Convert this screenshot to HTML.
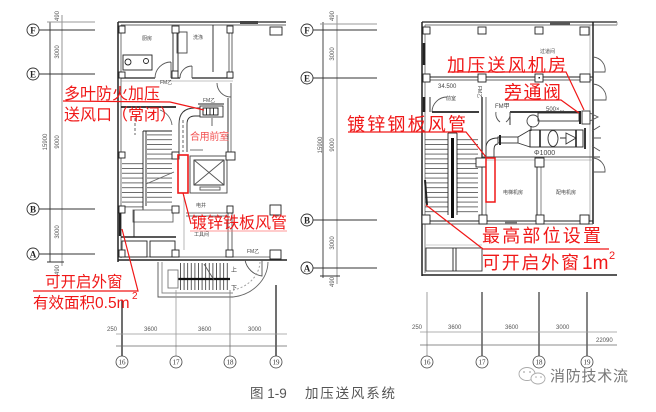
<!DOCTYPE html>
<html><head><meta charset="utf-8"><style>
html,body{margin:0;padding:0;background:#fff;}
svg{display:block;}
.cj{font-family:"Liberation Sans","Noto Sans CJK SC",sans-serif;}
</style></head><body>
<svg width="656" height="412" viewBox="0 0 656 412" xmlns="http://www.w3.org/2000/svg">
<defs>
<pattern id="th" width="30" height="4.8" patternUnits="userSpaceOnUse"><line x1="0" y1="0.5" x2="30" y2="0.5" stroke="#333" stroke-width="0.8"/></pattern>
<pattern id="tv" width="3.6" height="40" patternUnits="userSpaceOnUse"><line x1="0.5" y1="0" x2="0.5" y2="40" stroke="#333" stroke-width="0.8"/></pattern>
</defs>
<rect width="656" height="412" fill="#fff"/>

<!-- ============ LEFT AXES ============ -->
<g stroke="#333" stroke-width="0.9" fill="none">
<line x1="50" y1="22" x2="50" y2="262"/>
<line x1="62" y1="15" x2="62" y2="266" stroke="#888"/>
<line x1="47" y1="22" x2="95" y2="22" stroke="#999"/>
<line x1="39" y1="30" x2="95" y2="30"/>
<line x1="39" y1="74" x2="95" y2="74"/>
<line x1="39" y1="209" x2="95" y2="209"/>
<line x1="39" y1="254" x2="95" y2="254"/>
<line x1="47" y1="262" x2="64" y2="262"/>
</g>
<g fill="#fff" stroke="#333" stroke-width="0.9">
<circle cx="33" cy="30" r="6"/><circle cx="33" cy="74" r="6"/><circle cx="33" cy="209" r="6"/><circle cx="33" cy="254" r="6"/>
</g>
<g font-family="Liberation Serif,serif" font-size="9" fill="#222" text-anchor="middle" font-weight="bold">
<text x="33" y="33.5">F</text><text x="33" y="77.5">E</text><text x="33" y="212.5">B</text><text x="33" y="257.5">A</text>
</g>
<g font-family="Liberation Sans,sans-serif" font-size="6" fill="#555" text-anchor="middle">
<text transform="translate(59,16) rotate(-90)">490</text>
<text transform="translate(59,52) rotate(-90)">3000</text>
<text transform="translate(47,142) rotate(-90)">15900</text>
<text transform="translate(59,142) rotate(-90)">9000</text>
<text transform="translate(59,232) rotate(-90)">3000</text>
<text transform="translate(59,270) rotate(-90)">490</text>
</g>

<!-- ============ LEFT PLAN ============ -->
<g stroke="#222" fill="none" stroke-width="0.9">
<!-- outer -->
<line x1="118" y1="22" x2="286" y2="22" stroke-width="1.3"/>
<line x1="121" y1="25" x2="286" y2="25" stroke="#666"/>
<line x1="118" y1="22" x2="118" y2="262" stroke-width="1.5"/>
<line x1="121" y1="25" x2="121" y2="258" stroke="#666"/>
<line x1="118" y1="260" x2="287" y2="260" stroke-width="1.6"/>
<line x1="121" y1="257" x2="270" y2="257" stroke="#777"/>
<!-- top partitions -->
<line x1="173" y1="32" x2="173" y2="72"/>
<line x1="178" y1="32" x2="178" y2="72"/>
<line x1="213" y1="25" x2="213" y2="72"/>
<line x1="229" y1="33" x2="229" y2="72" stroke="#555"/>
<line x1="232" y1="33" x2="232" y2="72" stroke="#555"/>
<line x1="121" y1="78" x2="155" y2="78" stroke-width="1.3"/>
<line x1="171" y1="78" x2="180" y2="78" stroke-width="1.3"/>
<line x1="192" y1="78" x2="233" y2="78" stroke-width="1.3"/>
<line x1="121" y1="81" x2="233" y2="81" stroke="#888" stroke-width="0.6"/>
<rect x="123" y="55" width="29" height="15"/>
<circle cx="128" cy="62" r="3"/>
<circle cx="146" cy="61" r="2.5"/>
<rect x="177" y="32" width="10" height="21" stroke="#444"/>
<path d="M155,78 A16,16 0 0 1 171,62 M171,62 L171,78" stroke="#555"/>
<path d="M180,78 A12,12 0 0 1 192,66 M192,66 L192,78" stroke="#555"/>
<path d="M217,83 A14,14 0 0 0 231,97 M231,83 L231,110" stroke="#555"/>
<rect x="240" y="21" width="18" height="3" fill="#444" stroke="none"/>
<!-- middle -->
<line x1="121" y1="107" x2="176" y2="107" stroke-width="1.8"/>
<line x1="198" y1="104" x2="224" y2="104"/>
<rect x="200" y="106" width="23" height="11" stroke="#333"/>
<rect x="203" y="108" width="15" height="7" stroke="#111"/>
<line x1="206.5" y1="108" x2="206.5" y2="115"/><line x1="210" y1="108" x2="210" y2="115"/><line x1="213.5" y1="108" x2="213.5" y2="115"/>
<line x1="228" y1="98" x2="228" y2="152"/>
<line x1="231" y1="98" x2="231" y2="152" stroke="#666"/>
<line x1="212" y1="118" x2="212" y2="126" stroke="#555"/>
<!-- duct -->
<path d="M179,152 L179,124 Q179,108 195,108 L200,108" stroke="#333"/>
<path d="M187,152 L187,124 Q187,116 195,116 L200,116" stroke="#333"/>
<line x1="183" y1="120" x2="183" y2="152" stroke="#555" stroke-dasharray="3,2"/>
<line x1="135" y1="118" x2="135" y2="135" stroke="#555" stroke-dasharray="3,2"/>
<path d="M160,110 A18,18 0 0 1 172,125" stroke="#666"/>
<!-- stairs -->
<rect x="122" y="160" width="21" height="50" fill="url(#th)" stroke="none"/>
<rect x="147" y="131" width="25" height="75" fill="url(#th)" stroke="none"/>
<line x1="143" y1="131" x2="143" y2="210"/>
<line x1="146" y1="131" x2="146" y2="206"/>
<line x1="143" y1="131" x2="172" y2="131"/>
<line x1="146" y1="184" x2="174" y2="172" stroke="#666"/>
<rect x="133" y="210" width="40" height="12" stroke="#666"/>
<line x1="134" y1="210" x2="134" y2="237"/>
<line x1="121" y1="237" x2="176" y2="237" stroke-width="1.5"/>
<rect x="122" y="241" width="25" height="16"/>
<rect x="150" y="241" width="25" height="16"/>
<line x1="120" y1="212" x2="120" y2="236" stroke-width="2.4"/>
<!-- elevator -->
<rect x="190" y="156" width="37" height="37" stroke="#444"/>
<rect x="194" y="160" width="30" height="25"/>
<line x1="194" y1="160" x2="224" y2="185" stroke="#555"/><line x1="224" y1="160" x2="194" y2="185" stroke="#555"/>
<rect x="200" y="187" width="20" height="3" stroke="#555"/>
<line x1="190" y1="150" x2="203" y2="150" stroke="#666"/>
<!-- lower right -->
<line x1="186" y1="213" x2="228" y2="213" stroke="#777"/>
<line x1="186" y1="216" x2="228" y2="216" stroke="#777"/>
<line x1="228" y1="213" x2="228" y2="250" stroke="#555"/>
<line x1="232" y1="213" x2="232" y2="250" stroke="#555"/>
<line x1="184" y1="195" x2="184" y2="250" stroke="#888" stroke-width="0.6"/>
<path d="M245,260 A20,20 0 0 0 262,276 L262,260" stroke="#555"/>
<!-- stair projection -->
<path d="M158,262 L158,297 L233,297" stroke="#555"/>
<path d="M162,262 L162,293 L233,293" stroke="#888"/>
<rect x="178" y="263" width="52" height="27" fill="url(#tv)" stroke="none"/>
<line x1="178" y1="279" x2="230" y2="279" stroke-width="2.2" stroke="#111"/>
<rect x="168" y="270" width="10" height="18" stroke="#777"/>
<line x1="204" y1="264" x2="214" y2="280" stroke="#555"/>
<path d="M233,297 A40,36 0 0 0 268,262" stroke="#666"/>
<path d="M233,290 A34,30 0 0 0 260,262" stroke="#999" stroke-dasharray="2,2"/>
</g>
<g fill="#fff" stroke="#222" stroke-width="0.9">
<rect x="119" y="26" width="6" height="7"/><rect x="172" y="26" width="7" height="7"/><rect x="227" y="26" width="6" height="7"/><rect x="270" y="27" width="12" height="8"/>
<rect x="119" y="72" width="6" height="6"/><rect x="172" y="71" width="6" height="7"/><rect x="227" y="72" width="6" height="6"/>
<rect x="119" y="152" width="6" height="6"/><rect x="172" y="152" width="7" height="7"/><rect x="226" y="152" width="9" height="8"/>
<rect x="119" y="206" width="6" height="7"/><rect x="172" y="206" width="7" height="7"/><rect x="227" y="206" width="6" height="7"/><rect x="270" y="205" width="11" height="10"/>
<rect x="119" y="250" width="6" height="7"/><rect x="172" y="250" width="7" height="7"/><rect x="226" y="250" width="7" height="7"/><rect x="270" y="250" width="11" height="9"/>
</g>
<g class="cj" font-size="5" fill="#444">
<text x="142" y="40">厨房</text><text x="193" y="39">洗涤</text>
<text x="160" y="84">FM乙</text><text x="203" y="102">FM乙</text>
<text x="196" y="207">电井</text><text x="194" y="236">工具间</text>
<text x="247" y="253">FM乙</text>
<text x="231" y="272" font-size="6">上</text><text x="231" y="290" font-size="6">下</text>
</g>

<!-- left bottom dims -->
<g stroke="#333" fill="none">
<line x1="122" y1="300" x2="122" y2="356" stroke-width="1.4"/>
<line x1="176" y1="290" x2="176" y2="356" stroke="#999" stroke-width="0.8"/>
<line x1="230" y1="290" x2="230" y2="356" stroke="#777" stroke-width="0.8"/>
<line x1="276" y1="285" x2="276" y2="356" stroke-width="1.4"/>
<line x1="116" y1="334" x2="287" y2="334" stroke="#999" stroke-width="0.8"/>
<line x1="116" y1="346" x2="287" y2="346" stroke="#666" stroke-width="0.8"/>
</g>
<g font-family="Liberation Sans,sans-serif" font-size="6" fill="#555">
<text x="107" y="331">250</text><text x="144" y="331">3600</text><text x="198" y="331">3600</text><text x="248" y="331">3000</text>
</g>
<g fill="#fff" stroke="#444" stroke-width="0.8">
<circle cx="122" cy="362" r="6"/><circle cx="176" cy="362" r="6"/><circle cx="230" cy="362" r="6"/><circle cx="276" cy="362" r="6"/>
</g>
<g font-family="Liberation Serif,serif" font-size="7" fill="#333" text-anchor="middle">
<text x="122" y="364.5">16</text><text x="176" y="364.5">17</text><text x="230" y="364.5">18</text><text x="276" y="364.5">19</text>
</g>

<!-- ============ RIGHT AXES ============ -->
<g stroke="#333" stroke-width="0.9" fill="none">
<line x1="323" y1="22" x2="323" y2="278"/>
<line x1="337" y1="15" x2="337" y2="284" stroke="#888"/>
<line x1="320" y1="24" x2="377" y2="24" stroke="#999"/>
<line x1="313" y1="30" x2="377" y2="30"/>
<line x1="313" y1="78" x2="377" y2="78"/>
<line x1="313" y1="220" x2="377" y2="220"/>
<line x1="313" y1="268" x2="377" y2="268"/>
<line x1="320" y1="276" x2="340" y2="276"/>
</g>
<g fill="#fff" stroke="#333" stroke-width="0.9">
<circle cx="307" cy="30" r="6"/><circle cx="307" cy="78" r="6"/><circle cx="307" cy="220" r="6"/><circle cx="307" cy="268" r="6"/>
</g>
<g font-family="Liberation Serif,serif" font-size="9" fill="#222" text-anchor="middle" font-weight="bold">
<text x="307" y="33.5">F</text><text x="307" y="81.5">E</text><text x="307" y="223.5">B</text><text x="307" y="271.5">A</text>
</g>
<g font-family="Liberation Sans,sans-serif" font-size="6" fill="#555" text-anchor="middle">
<text transform="translate(334,16) rotate(-90)">490</text>
<text transform="translate(334,54) rotate(-90)">3000</text>
<text transform="translate(322,145) rotate(-90)">15900</text>
<text transform="translate(334,145) rotate(-90)">9000</text>
<text transform="translate(334,243) rotate(-90)">3000</text>
<text transform="translate(334,282) rotate(-90)">490</text>
</g>

<!-- ============ RIGHT PLAN ============ -->
<g stroke="#222" fill="none" stroke-width="0.9">
<line x1="422" y1="22" x2="617" y2="22" stroke-width="1.2"/>
<line x1="425" y1="25" x2="617" y2="25" stroke="#777"/>
<rect x="550" y="22" width="20" height="3" fill="#555" stroke="none"/>
<line x1="422" y1="22" x2="422" y2="276" stroke-width="1.5"/>
<line x1="425" y1="25" x2="425" y2="273" stroke="#777"/>
<line x1="424" y1="43" x2="424" y2="65" stroke-width="2.6"/>
<line x1="424" y1="97" x2="424" y2="112" stroke-width="2.6"/>
<line x1="593" y1="22" x2="593" y2="224" stroke-width="1.5"/>
<line x1="590" y1="25" x2="590" y2="222" stroke="#888" stroke-width="0.6"/>
<path d="M593,57 A13,13 0 0 1 605,72 L593,72" stroke="#555"/>
<path d="M593,84 A14,14 0 0 1 606,100 L593,100" stroke="#555"/>
<path d="M593,158 A13,13 0 0 1 605,172 L593,172" stroke="#555"/>
<line x1="425" y1="77" x2="593" y2="77"/>
<line x1="425" y1="80" x2="593" y2="80" stroke="#666"/>
<path d="M432,112 A15,15 0 0 1 447,97" stroke="#555"/>
<line x1="430" y1="97" x2="430" y2="112"/>
<line x1="482" y1="97" x2="482" y2="158" stroke-width="1.3"/>
<line x1="486" y1="97" x2="486" y2="158" stroke="#666"/>
<line x1="432" y1="112" x2="479" y2="112" stroke-width="1.8"/>
<line x1="510" y1="112" x2="580" y2="112" stroke-width="1.8"/>
<line x1="510" y1="112" x2="510" y2="125"/>
<path d="M496,112 A10,10 0 0 0 500,122 M510,112 A10,10 0 0 1 506,122" stroke="#555"/>
<!-- upper duct -->
<rect x="538" y="113" width="41" height="8" stroke="#333"/>
<line x1="580" y1="111" x2="580" y2="124" stroke-width="2"/>
<rect x="582" y="111" width="8" height="13" stroke="#333"/>
<path d="M590,113 L598,117 L590,121" stroke="#555"/>
<circle cx="533" cy="121" r="6" stroke="#444"/>
<line x1="531" y1="126" x2="531" y2="131"/>
<!-- main duct -->
<rect x="498" y="137" width="20" height="6" stroke="#333"/>
<line x1="500" y1="135" x2="500" y2="145" stroke-width="2"/>
<path d="M518,137 L530,130 M518,143 L530,147" stroke="#333"/>
<rect x="530" y="130" width="53" height="17" stroke="#222"/>
<line x1="540" y1="130" x2="540" y2="147" stroke-width="1.6"/>
<ellipse cx="553" cy="138.5" rx="5" ry="8" stroke="#333"/>
<path d="M560,138 L566,138 M566,133 L576,138 L566,144 Z" stroke="#333"/>
<line x1="576" y1="130" x2="576" y2="147" stroke-width="1.6"/>
<line x1="585" y1="128" x2="585" y2="149" stroke-width="1.8"/>
<path d="M592,131 L600,126 M592,138 L601,138 M592,146 L600,151" stroke="#555"/>
<path d="M486,157 L486,148 Q486,138 498,138" stroke="#333"/>
<path d="M494,157 L494,150 Q494,144 498,144" stroke="#333"/>
<line x1="482" y1="157" x2="600" y2="157" stroke="#444"/>
<line x1="486" y1="160" x2="593" y2="160" stroke="#888" stroke-width="0.6"/>
<line x1="537" y1="167" x2="537" y2="215"/>
<line x1="541" y1="167" x2="541" y2="215" stroke="#777"/>
<line x1="482" y1="167" x2="482" y2="215"/>
<line x1="486" y1="167" x2="486" y2="215" stroke="#777"/>
<!-- stairs -->
<rect x="425" y="138" width="23" height="77" fill="url(#th)" stroke="none"/>
<rect x="457" y="138" width="21" height="77" fill="url(#th)" stroke="none"/>
<line x1="448" y1="133" x2="448" y2="215"/>
<line x1="457" y1="133" x2="457" y2="215"/>
<line x1="452.5" y1="138" x2="452.5" y2="218" stroke-width="3" stroke="#111"/>
<line x1="448" y1="133" x2="457" y2="133"/>
<line x1="425" y1="180" x2="427" y2="205" stroke-width="2"/>
<!-- lower -->
<line x1="422" y1="221" x2="593" y2="221"/>
<line x1="422" y1="224" x2="593" y2="224" stroke="#666"/>
<rect x="505" y="221" width="12" height="3" fill="#777" stroke="none"/>
<rect x="426" y="248" width="56" height="23" stroke="#333"/>
<line x1="453" y1="248" x2="453" y2="271"/>
<line x1="456" y1="248" x2="456" y2="271"/>
<line x1="426" y1="245" x2="482" y2="245" stroke="#999" stroke-width="0.6"/>
<line x1="422" y1="275" x2="617" y2="275" stroke-width="1.5"/>
<line x1="617" y1="22" x2="617" y2="25" stroke="#999"/>
</g>
<g fill="#fff" stroke="#222" stroke-width="0.9">
<rect x="423" y="27" width="7" height="7"/><rect x="478" y="27" width="8" height="7"/><rect x="535" y="27" width="8" height="7"/><rect x="580" y="27" width="9" height="8"/>
<rect x="423" y="74" width="7" height="8"/><rect x="478" y="74" width="8" height="8"/><rect x="535" y="74" width="8" height="8"/><rect x="580" y="74" width="10" height="8"/>
<rect x="476" y="158" width="10" height="9"/><rect x="535" y="158" width="9" height="9"/>
<rect x="422" y="215" width="8" height="9"/><rect x="479" y="215" width="8" height="9"/><rect x="536" y="215" width="8" height="9"/><rect x="580" y="215" width="9" height="9"/>
</g>
<rect x="538.5" y="77" width="1.5" height="1.5" fill="#222"/>
<g class="cj" font-size="5" fill="#444">
<text x="540" y="53">过道间</text>
<text x="438" y="88" font-size="6">34.500</text><text x="446" y="100">前室</text>
<text transform="translate(478,86) rotate(90)">FM乙</text>
<text x="495" y="108" font-size="6">FM甲</text>
<text x="546" y="111" font-size="6">500×...</text>
<text x="534" y="155" font-size="7">Φ1000</text>
<text x="503" y="194">电梯机房</text><text x="556" y="194">配电机房</text>
</g>

<!-- right bottom dims -->
<g stroke="#333" fill="none">
<line x1="427" y1="292" x2="427" y2="357" stroke="#888" stroke-width="0.8"/>
<line x1="482" y1="292" x2="482" y2="357" stroke-width="1.2"/>
<line x1="539" y1="292" x2="539" y2="357" stroke-width="1.2"/>
<line x1="587" y1="292" x2="587" y2="357" stroke-width="1.2"/>
<line x1="420" y1="332" x2="617" y2="332" stroke="#999" stroke-width="0.8"/>
<line x1="420" y1="345" x2="617" y2="345" stroke="#666" stroke-width="0.8"/>
</g>
<g font-family="Liberation Sans,sans-serif" font-size="6" fill="#555">
<text x="412" y="329">250</text><text x="448" y="329">3600</text><text x="505" y="329">3600</text><text x="556" y="329">3000</text><text x="596" y="342">22090</text>
</g>
<g fill="#fff" stroke="#444" stroke-width="0.8">
<circle cx="427" cy="362" r="6"/><circle cx="482" cy="362" r="6"/><circle cx="539" cy="362" r="6"/><circle cx="587" cy="362" r="6"/>
</g>
<g font-family="Liberation Serif,serif" font-size="7" fill="#333" text-anchor="middle">
<text x="427" y="364.5">16</text><text x="482" y="364.5">17</text><text x="539" y="364.5">18</text><text x="587" y="364.5">19</text>
</g>

<!-- ============ RED ANNOTATIONS ============ -->
<g stroke="#f01818" fill="none" stroke-width="1.2">
<polyline points="63,101 170,102 204,110"/>
<rect x="178" y="155" width="10" height="38" stroke-width="1.6"/>
<polyline points="183,193 191,224"/>
<line x1="190" y1="231" x2="287" y2="231" stroke-width="0.7" stroke="#f77"/>
<polyline points="122,229 138,291 33,291"/>
<polyline points="448,72 566,72 584,110"/>
<polyline points="505,100 561,100 579,113"/>
<polyline points="348,132 466,132 486,157"/>
<rect x="486" y="158" width="9" height="44" stroke-width="1.5"/>
<polyline points="426,205 483,249 609,249"/>
</g>
<g class="cj" fill="#f01818">
<text x="64" y="99" font-size="16">多叶防火加压</text>
<text x="64" y="120" font-size="16">送风口（常闭）</text>
<text x="190" y="140" font-size="10" textLength="39" fill="#f25050">合用前室</text>
<text x="191" y="228" font-size="16">镀锌铁板风管</text>
<text x="45" y="287" font-size="15.5">可开启外窗</text>
<text x="33" y="308" font-size="15.5">有效面积<tspan font-family="Liberation Sans,sans-serif">0.5m</tspan></text>
<text x="132" y="299" font-size="10" font-family="Liberation Sans,sans-serif">2</text>
<text x="447" y="71.5" font-size="18" textLength="119">加压送风机房</text>
<text x="504" y="98.5" font-size="18" textLength="57">旁通阀</text>
<text x="347" y="130.5" font-size="18" textLength="119">镀锌钢板风管</text>
<text x="482" y="242" font-size="18" textLength="119">最高部位设置</text>
<text x="482" y="269" font-size="18" textLength="97">可开启外窗</text>
<text x="582" y="269" font-size="19" font-family="Liberation Sans,sans-serif">1m</text>
<text x="609" y="259" font-size="11" font-family="Liberation Sans,sans-serif">2</text>
</g>

<!-- caption -->
<g class="cj" fill="#555">
<text x="250" y="398" font-size="13.5">图 1-9</text>
<text x="305" y="398" font-size="13.5" textLength="90">加压送风系统</text>
</g>
<!-- watermark -->
<g fill="none" stroke="#aaa" stroke-width="0.9">
<ellipse cx="527" cy="374" rx="8" ry="6.5"/>
<ellipse cx="538" cy="378.5" rx="7" ry="5.5" fill="#fff"/>
</g>
<g fill="#aaa"><circle cx="524" cy="372" r="0.9"/><circle cx="530" cy="372" r="0.9"/><circle cx="536" cy="377" r="0.8"/><circle cx="541" cy="377" r="0.8"/></g>
<text x="550" y="381" class="cj" font-size="15" fill="#777" textLength="78">消防技术流</text>
</svg>
</body></html>
